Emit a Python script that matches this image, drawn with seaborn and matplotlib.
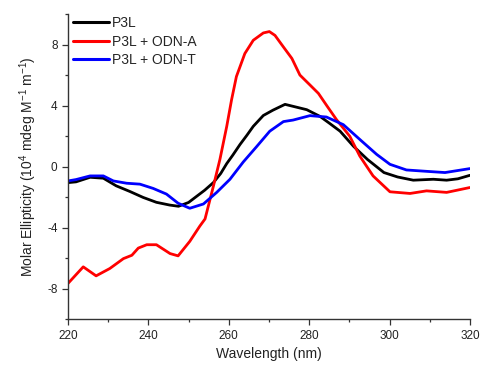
import matplotlib
matplotlib.use("Agg")
import matplotlib.pyplot as plt
import seaborn as sns
import pandas as pd
from matplotlib.ticker import MultipleLocator

# --- data ---
wl_p3l = [220, 222, 225.5, 228.8, 232, 235.4, 238.7, 242, 245.3, 247.5, 250, 252, 254,
          256.2, 258, 259.5, 261, 262.8, 264.5, 266.1, 268.6, 271, 274, 276, 279.4,
          282.7, 285, 287.7, 291, 294.5, 298.6, 302, 305.9, 310.9, 314.2, 317, 320]
ell_p3l = [-1.05, -1.0, -0.7, -0.76, -1.26, -1.63, -2.02, -2.34, -2.52, -2.6, -2.35, -1.95, -1.55,
           -1.04, -0.45, 0.2, 0.75, 1.45, 2.05, 2.64, 3.35, 3.7, 4.08, 3.95, 3.73,
           3.29, 2.85, 2.32, 1.34, 0.47, -0.39, -0.68, -0.89, -0.83, -0.89, -0.8, -0.57]

wl_odna = [220, 223.8, 227, 230.4, 233.8, 235.9, 237.5, 239.6, 242, 245.4, 247.4, 250.3,
           252.8, 254.1, 256.2, 257.8, 259.5, 260.7, 261.9, 264, 266.1, 268.6, 270.1,
           271.5, 273.6, 275.7, 277.7, 280.2, 282.3, 284.5, 286.8, 290.1, 292.6, 295.9,
           300.1, 305.1, 309.2, 314.2, 320]
ell_odna = [-7.66, -6.57, -7.16, -6.68, -6.03, -5.81, -5.34, -5.12, -5.12, -5.7, -5.85, -4.9,
            -3.9, -3.43, -1.26, 0.47, 2.64, 4.38, 5.9, 7.41, 8.28, 8.76, 8.85,
            8.6, 7.84, 7.09, 6.0, 5.35, 4.8, 3.95, 3.08, 1.99, 0.69, -0.61,
            -1.65, -1.76, -1.59, -1.69, -1.37]

wl_odnt = [220, 222, 225.5, 228.8, 231.3, 234.6, 237.9, 241.2, 244.5, 247.4, 250.3, 253.7,
           257, 260.3, 263.6, 266.9, 270.2, 273.6, 276, 280.2, 284.3, 288.5, 292.6, 296.8,
           300.1, 304.2, 309.2, 313.8, 320]
ell_odnt = [-0.94, -0.85, -0.61, -0.61, -0.94, -1.09, -1.15, -1.43, -1.8, -2.4, -2.73, -2.45,
            -1.69, -0.83, 0.3, 1.3, 2.32, 2.95, 3.05, 3.34, 3.25, 2.75, 1.78, 0.8,
            0.15, -0.22, -0.31, -0.39, -0.13]

labels = ["P3L", "P3L + ODN-A", "P3L + ODN-T"]
colors = ["#000000", "#ff0000", "#0000ff"]
x_ticks = [220, 240, 260, 280, 300, 320]
y_ticks = [-8, -4, 0, 4, 8]

frames = []
for lab, wl, ev in zip(labels, [wl_p3l, wl_odna, wl_odnt], [ell_p3l, ell_odna, ell_odnt]):
    frames.append(pd.DataFrame({"wl": wl, "ell": ev, "sample": lab}))
df = pd.concat(frames, ignore_index=True)

sns.set_theme(style="ticks")
plt.rcParams["font.family"] = ["Liberation Sans", "DejaVu Sans"]
plt.rcParams["mathtext.fontset"] = "custom"
plt.rcParams["mathtext.rm"] = "Liberation Sans"
plt.rcParams["mathtext.it"] = "Liberation Sans"

fig = plt.figure(figsize=(4.82, 3.69), dpi=100)
ax = fig.add_axes([0.141, 0.135, 0.834, 0.827])

sns.lineplot(data=df, x="wl", y="ell", hue="sample", hue_order=labels,
             palette=colors, sort=False, estimator=None, linewidth=2.0, ax=ax)

ax.set_xlim(220, 320)
ax.set_ylim(-10, 10)
ax.set_xticks(x_ticks)
ax.set_yticks(y_ticks)
ax.set_xticklabels([str(t) for t in x_ticks])
ax.set_yticklabels([str(t) for t in y_ticks])
ax.xaxis.set_minor_locator(MultipleLocator(10))
ax.yaxis.set_minor_locator(MultipleLocator(2))
ax.tick_params(which="major", direction="out", length=4, width=0.9, labelsize=8.5,
               colors="#333333", labelcolor="#222222")
ax.tick_params(which="minor", direction="out", length=2.5, width=0.9, colors="#333333")
for s in ["left", "bottom"]:
    ax.spines[s].set_linewidth(1.0)
    ax.spines[s].set_color("#333333")
sns.despine(ax=ax)

ax.set_xlabel("Wavelength (nm)", fontsize=10, color="#222222")
ax.set_ylabel(r"Molar Ellipticity (10$^4$ mdeg M$^{-1}$ m$^{-1}$)", fontsize=10,
              color="#222222", labelpad=6)

leg = ax.legend(loc="upper left", frameon=False, fontsize=10, handlelength=2.6,
                handletextpad=0.25, labelspacing=0.32, borderaxespad=0.0, borderpad=0.0,
                bbox_to_anchor=(0.012, 0.993))
for line in leg.get_lines():
    line.set_linewidth(2.2)

fig.savefig("out.png", dpi=100)
